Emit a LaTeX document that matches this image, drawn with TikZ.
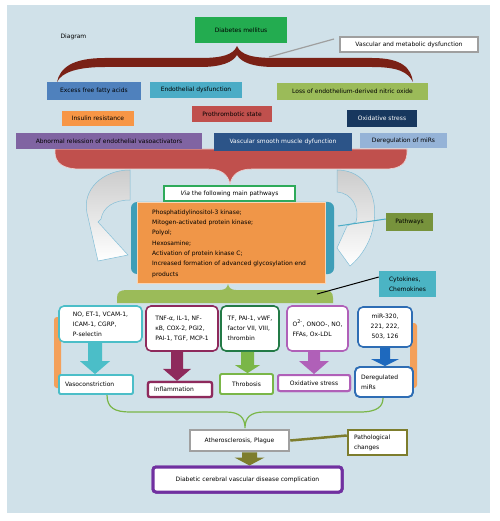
\documentclass[tikz,border=0pt]{standalone}
\usepackage{fontspec}
\setmainfont{DejaVu Sans}
\usetikzlibrary{calc}
\definecolor{bgc}{RGB}{208,225,233}
\definecolor{dmg}{RGB}{35,172,80}
\definecolor{efac}{RGB}{79,129,189}
\definecolor{edc}{RGB}{75,172,198}
\definecolor{lossc}{RGB}{155,187,89}
\definecolor{irc}{RGB}{247,150,70}
\definecolor{ptsc}{RGB}{192,80,77}
\definecolor{osc}{RGB}{23,55,94}
\definecolor{arelc}{RGB}{128,100,162}
\definecolor{vsmc}{RGB}{44,84,136}
\definecolor{drmc}{RGB}{149,179,215}
\definecolor{bracec}{RGB}{122,33,22}
\definecolor{redsh}{RGB}{192,80,77}
\definecolor{viag}{RGB}{46,170,90}
\definecolor{tealb}{RGB}{62,158,184}
\definecolor{orgc}{RGB}{240,150,72}
\definecolor{pathg}{RGB}{119,147,60}
\definecolor{greenbr}{RGB}{155,187,89}
\definecolor{orgbr}{RGB}{244,160,90}
\definecolor{cytc}{RGB}{75,180,196}
\definecolor{cA}{RGB}{75,190,200}
\definecolor{cB}{RGB}{142,42,92}
\definecolor{cCd}{RGB}{35,122,70}
\definecolor{cC}{RGB}{122,182,72}
\definecolor{cD}{RGB}{176,96,184}
\definecolor{cE}{RGB}{46,109,180}
\definecolor{cEa}{RGB}{30,105,190}
\definecolor{olivec}{RGB}{125,125,45}
\definecolor{athc}{RGB}{160,160,160}
\definecolor{dcvc}{RGB}{112,48,160}
\definecolor{arrb}{RGB}{130,190,215}
\newcommand\fs{\fontsize{6}{10}\selectfont}
% block arrow: color, x, from node, to node, shaft half, head half, head length
\newcommand\barrow[7]{%
  \fill[#1] let \p1=(#3.south), \p2=(#4.north) in
    ({#2pt-#5pt},\y1) -- ({#2pt-#5pt},\y2+#7pt) -- ({#2pt-#6pt},\y2+#7pt) --
    ({#2pt},\y2) -- ({#2pt+#6pt},\y2+#7pt) -- ({#2pt+#5pt},\y2+#7pt) --
    ({#2pt+#5pt},\y1) -- cycle;}
\begin{document}
\begin{tikzpicture}[x=1pt,y=-1pt,font=\fs,
  box/.style={rectangle,inner sep=0pt,align=center,text=black},
  sz/.style 2 args={minimum width=#1pt,minimum height=#2pt},
  cbox/.style={box,fill=#1},
  wbox/.style={box,fill=white,draw=#1,rounded corners=5pt,line width=1.6pt},
  sbox/.style={box,fill=white,draw=#1,rounded corners=2pt,line width=2.2pt},
  v1s/.style={sbox=cA,line width=1.8pt,sz={74}{19},text width=62pt,inner xsep=6pt,align=left},
  infs/.style={sbox=cB,sz={64}{15},text width=52pt,inner xsep=6pt,align=left},
  thrs/.style={sbox=cC,line width=1.8pt,sz={53}{20}},
  oxss/.style={sbox=cD,line width=2pt,sz={72}{16}},
  mirs/.style={wbox=cE,line width=1.8pt,sz={58}{30},text width=46pt,inner xsep=6pt,align=left},
  dcvs/.style={box,fill=white,draw=dcvc,line width=3pt,rounded corners=3pt,sz={189}{25}},
]
\useasboundingbox (0,0) rectangle (499,521);
\fill[white] (0,0) rectangle (499,521);
\fill[bgc] (7,5) rectangle (490,513);

% top
\node[anchor=west] (dg) at (57,37) {Diagram};
\node[cbox=dmg,sz={92}{26}] (dm) at (241,30) {Diabetes mellitus};
\node[box,fill=white,draw=gray!75,line width=1.2pt,sz={138}{15}] (vmd) at (409,44.5) {Vascular and metabolic dysfunction};

% dark red brace
\fill[bracec] (57,82) .. controls (60,68) and (72,58) .. (105,58) -- (200,58)
  .. controls (222,58) and (233,55) .. (237,46) .. controls (241,55) and (252,58) .. (275,58)
  -- (372,58) .. controls (402,58) and (411,68) .. (413,82)
  .. controls (408,72) and (398,67) .. (372,67) -- (275,67)
  .. controls (252,67) and (241,62) .. (237,55) .. controls (233,62) and (222,67) .. (200,67)
  -- (105,67) .. controls (78,67) and (62,72) .. (57,82) -- cycle;
\coordinate (bt) at (269,57);
\coordinate (vl) at (334,39);
\draw[gray!75,line width=1.2pt] (bt) -- (vl);

% rows
\node[cbox=efac,sz={94}{18}] (efa) at (94,91) {Excess free fatty acids};
\node[cbox=edc,sz={92}{16}] (ed) at (196,90) {Endothelial dysfunction};
\node[cbox=lossc,sz={151}{17}] (loss) at (352.5,91.5) {Loss of endothelium-derived nitric oxide};
\node[cbox=irc,sz={72}{15}] (ir) at (98,118.5) {Insulin resistance};
\node[cbox=ptsc,sz={80}{16}] (pts) at (232,114) {Prothrombotic state};
\node[cbox=osc,sz={70}{17},text=white] (os) at (382,118.5) {Oxidative stress};

% red shape
\fill[redsh,draw=white!75!redsh,line width=0.6pt] (55,149) -- (55,152) .. controls (55,163) and (63,169) .. (80,169)
  -- (208,169) .. controls (222,169) and (228,175) .. (230,184) .. controls (232,175) and (238,169) .. (252,169)
  -- (385,169) .. controls (401,169) and (407,163) .. (407,152) -- (407,149) -- cycle;

\node[cbox=arelc,sz={186}{16}] (arel) at (109,141) {Abnormal relession of endothelial vasoactivators};
\node[cbox=vsmc,sz={138}{18},text=white] (vsm) at (283,142) {Vascular smooth muscle dyfunction};
\node[cbox=drmc,sz={87}{15}] (drm) at (403.5,140.5) {Deregulation of miRs};

% curved arrows
\path[draw=arrb,line width=0.5pt,top color=gray!40,bottom color=white]
  (130,170) .. controls (102,170) and (82,190) .. (87,213) -- (98,261) -- (128,255) -- (98,222) -- (101,219)
  .. controls (103,207) and (114,200) .. (130,200) -- cycle;
\path[draw=arrb,line width=0.5pt,top color=gray!40,bottom color=white]
  (337,170) .. controls (365,170) and (378,195) .. (374,222) .. controls (372,240) and (362,256) .. (350,266)
  -- (337,248) -- (347,226) -- (356,222) .. controls (360,208) and (352,193) .. (337,192) -- cycle;

% pathways block
\node[box,fill=white,draw=viag,line width=1.2pt,sz={131}{15}] (via) at (229.5,193.5) {\textit{Via} the following main pathways};
\fill[tealb,rounded corners=6pt] (131,202) rectangle (334,274);
\node[box,fill=orgc,draw=white!60!orgc,line width=0.8pt,sz={188}{81}] (org) at (231,242.5) {};
\node[anchor=west,align=left,inner sep=0pt,font=\fontsize{6}{10.3}\selectfont] (otx) at (152,243.5)
  {Phosphatidylinositol-3 kinase;\\Mitogen-activated protein kinase;\\Polyol;\\Hexosamine;\\Activation of protein kinase C;\\Increased formation of advanced glycosylation end\\products};

\node[cbox=pathg,sz={47}{18}] (pw) at (409.5,222) {Pathways};
\coordinate (pl) at (338,226);
\draw[edc,line width=1pt] (pl) -- ($(pw.west)+(0,-3)$);

% green bracket
\fill[greenbr] (117,303) -- (117,298) .. controls (117,292) and (120,290) .. (127,290) -- (220,290)
  .. controls (225,290) and (227,288) .. (228,284) .. controls (229,288) and (231,290) .. (236,290)
  -- (323,290) .. controls (330,290) and (333,292) .. (333,298) -- (333,303) -- cycle;

\node[cbox=cytc,sz={57}{26},align=left] (cyt) at (407.5,284) {Cytokines,\\Chemokines};
\coordinate (cl) at (317,294);
\draw[black,line width=1pt] (cl) -- ($(cyt.west)+(0,-7)$);

% orange brackets
\fill[orgbr,rounded corners=3pt] (54,317) rectangle (61,388);
\fill[orgbr,rounded corners=3pt] (410,323) rectangle (417,388);

% upper boxes
\node[wbox=cA,sz={83}{36},align=left] (b1) at (100.5,324) {NO, ET-1, VCAM-1,\\ICAM-1, CGRP,\\P-selectin};
\node[wbox=cB,sz={72}{45},align=left] (b2) at (182,328.5) {TNF-α, IL-1, NF-\\κB, COX-2, PGI2,\\PAI-1, TGF, MCP-1};
\node[wbox=cCd,sz={58}{45},align=left] (b3) at (250,328.5) {TF, PAI-1, vWF,\\factor VII, VIII,\\thrombin};
\node[wbox=cD,sz={61}{45},align=left] (b4) at (317.5,328.5) {O\textsuperscript{2-}, ONOO-, NO,\\FFAs, Ox-LDL};
\node[wbox=cE,sz={54}{40}] (b5) at (385,327) {miR-320,\\221, 222,\\503, 126};

% lower boxes (named first, arrows, then redrawn on top)
\node[v1s] (v1) at (96,384.5) {Vasoconstriction};
\node[infs] (infl) at (180,389.5) {Inflammation};
\node[thrs] (thr) at (246.5,384) {Throbosis};
\node[oxss] (oxs) at (314,383) {Oxidative stress};
\node[mirs] (mir) at (384,382) {Deregulated\\miRs};

\barrow{cA}{95}{b1}{v1}{7}{15}{13}
\barrow{cB}{177}{b2}{infl}{6}{14}{12}
\barrow{cC}{247.5}{b3}{thr}{6.5}{12.5}{8}
\barrow{cD}{314}{b4}{oxs}{6}{15}{13}
\barrow{cEa}{385}{b5}{mir}{5}{14}{7}

\node[v1s] at (v1) {Vasoconstriction};
\node[infs] at (infl) {Inflammation};
\node[thrs] at (thr) {Throbosis};
\node[oxss] at (oxs) {Oxidative stress};
\node[mirs] at (mir) {Deregulated\\miRs};

% green brace line
\draw[cC,line width=1.2pt] (107,395) .. controls (107,408) and (115,412) .. (130,412) -- (226,412)
  .. controls (240,412) and (245,418) .. (245,428) .. controls (245,418) and (250,412) .. (264,412)
  -- (360,412) .. controls (378,412) and (383,406) .. (383,398);

% bottom
\node[box,fill=white,draw=athc,line width=2.5pt,sz={99}{21}] (ath) at (239.5,440.5) {Atherosclerosis, Plague};
\node[box,fill=white,draw=olivec,line width=2.5pt,sz={59}{25},text width=47pt,inner xsep=6pt,align=left] (pc) at (377.5,442.5) {Pathological\\changes};
\draw[olivec,line width=2.5pt] (ath.east) -- ($(pc.west)+(0,-7)$);
\node[dcvs] (dcv) at (247.5,479.5) {Diabetic cerebral vascular disease complication};
\barrow{olivec}{249.5}{ath}{dcv}{7.5}{15}{8}
\node[dcvs] at (dcv) {Diabetic cerebral vascular disease complication};
\end{tikzpicture}
\end{document}
